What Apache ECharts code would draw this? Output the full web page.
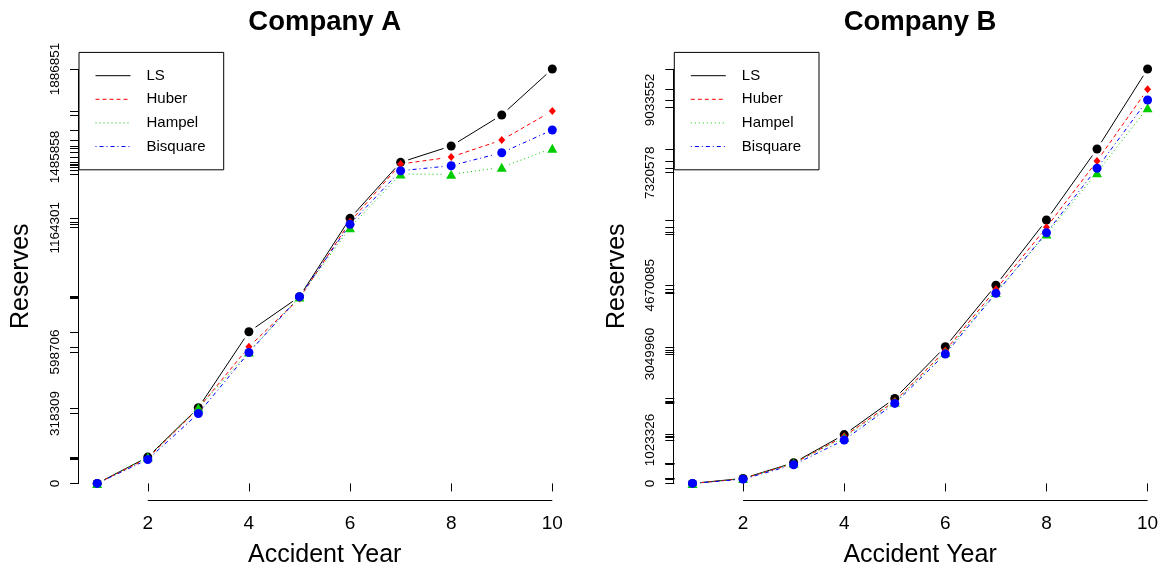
<!DOCTYPE html>
<html>
<head>
<meta charset="utf-8">
<script src="https://cdn.jsdelivr.net/npm/echarts@6/dist/echarts.min.js"></script>
<style>
  html, body { margin: 0; padding: 0; background: #ffffff; }
  #chart { width: 1168px; height: 572px; }
</style>
</head>
<body>
<div id="chart"></div>
<script>
// Accident years and the x ticks that carry labels
const years = [1, 2, 3, 4, 5, 6, 7, 8, 9, 10];
const xTickYears = [2, 4, 6, 8, 10];

// Estimation methods, in legend / drawing order
const methods = ['LS', 'Huber', 'Hampel', 'Bisquare'];

// Company A reserves by accident year
const lsA       = [0, 120000, 344300, 690400, 850000, 1206900, 1461930, 1536170, 1677310, 1886851];
const huberA    = [0, 115000, 341600, 622000, 842000, 1191000, 1454190, 1485858, 1563490, 1695570];
const hampelA   = [0, 120000, 344000, 598706, 849000, 1164301, 1408640, 1407280, 1439160, 1525690];
const bisquareA = [0, 109000, 318309, 596000, 850000, 1179600, 1423670, 1446440, 1505650, 1609090];

// Company B reserves by accident year
const lsB       = [0, 118000, 486000, 1150000, 2003000, 3219000, 4670085, 6205000, 7879000, 9764000];
const huberB    = [0, 112000, 470000, 1110000, 1940000, 3130000, 4572000, 6033000, 7596000, 9286000];
const hampelB   = [0, 116000, 480000, 1084000, 1920000, 3090000, 4500000, 5875000, 7320578, 8852000];
const bisquareB = [0, 100000, 440000, 1023326, 1885000, 3049960, 4478000, 5906000, 7424000, 9033552];

// Reserve values printed on each y axis
const yLabelsA = [0, 318309, 598706, 1164301, 1485858, 1886851];
const yLabelsB = [0, 1023326, 3049960, 4670085, 7320578, 9033552];

const panels = [
  { title: 'Company A', series: [lsA, huberA, hampelA, bisquareA], yLabels: yLabelsA, left: 79 },
  { title: 'Company B', series: [lsB, huberB, hampelB, bisquareB], yLabels: yLabelsB, left: 674.3 }
];

const FONT = '"Liberation Sans", Arial, Helvetica, sans-serif';
const PLOT_TOP = 52.4, PLOT_W = 491.5, PLOT_H = 447.6;
const GAP = 8; // space left around each point by the connecting segments

const styles = {
  LS:       { color: '#000000', dash: null,         symbol: 'circle',   size: 9 },
  Huber:    { color: '#FF0000', dash: [4, 3],       symbol: 'diamond',  size: [7, 8] },
  Hampel:   { color: '#00CD00', dash: [1, 3],       symbol: 'triangle', size: [10, 9] },
  Bisquare: { color: '#0000FF', dash: [1, 3, 4, 3], symbol: 'circle',   size: 9 }
};

// range with 4% padding on each side
function padRange(lo, hi) { const r = hi - lo; return [lo - 0.04 * r, hi + 0.04 * r]; }
const xRange = padRange(Math.min(...years), Math.max(...years));

const grids = [], xAxes = [], yAxes = [], titles = [], legends = [], series = [];

panels.forEach((p, gi) => {
  const allVals = [].concat(...p.series);
  const yRange = padRange(Math.min(...allVals), Math.max(...allVals));
  const cx = p.left + PLOT_W / 2;

  grids.push({
    left: p.left, top: PLOT_TOP, width: PLOT_W, height: PLOT_H,
    containLabel: false, outerBoundsMode: 'none'
  });

  titles.push({
    text: p.title, left: cx, top: 9, textAlign: 'center', padding: 0,
    textStyle: { fontFamily: FONT, fontSize: 27.5, fontWeight: 'bold', color: '#000', lineHeight: 27 }
  });

  xAxes.push({
    gridIndex: gi, type: 'value', min: xRange[0], max: xRange[1],
    name: 'Accident Year', nameLocation: 'middle', nameGap: 43,
    nameTextStyle: { fontFamily: FONT, fontSize: 25, color: '#000', lineHeight: 25 },
    axisLine: { show: false },
    axisTick: { show: true, customValues: xTickYears, length: 8, lineStyle: { color: '#000', width: 1 } },
    axisLabel: { customValues: xTickYears, margin: 14, fontFamily: FONT, fontSize: 19, color: '#000', lineHeight: 19 },
    splitLine: { show: false }
  });

  yAxes.push({
    gridIndex: gi, type: 'value', min: yRange[0], max: yRange[1],
    name: 'Reserves', nameLocation: 'middle', nameGap: 45, nameRotate: 90,
    nameTextStyle: { fontFamily: FONT, fontSize: 25, color: '#000', lineHeight: 25 },
    axisLine: { show: false },
    axisTick: { show: true, customValues: Array.from(new Set(allVals)), length: 9, lineStyle: { color: '#000', width: 1 } },
    axisLabel: {
      customValues: p.yLabels, rotate: 90, margin: 17, fontFamily: FONT, fontSize: 13.5, color: '#000', lineHeight: 14,
      formatter: v => String(Math.round(v))
    },
    splitLine: { show: false }
  });

  legends.push({
    orient: 'vertical', left: p.left, top: PLOT_TOP,
    itemWidth: 35, itemHeight: 15, itemGap: 8.6,
    padding: [15.8, 18, 15.8, 16],
    borderColor: '#000', borderWidth: 1, borderRadius: 0, backgroundColor: '#fff',
    selectedMode: false,
    textStyle: { fontFamily: FONT, fontSize: 15, color: '#000', padding: [0, 0, 0, 11] },
    data: methods.map(m => ({
      name: m,
      itemStyle: { opacity: 0 },
      lineStyle: { color: styles[m].color, width: 1, type: styles[m].dash || 'solid', opacity: 1 }
    }))
  });

  // Axis lines running from the first to the last tick
  const yTickLo = Math.min(...allVals), yTickHi = Math.max(...allVals);
  const xTickLo = Math.min(...xTickYears), xTickHi = Math.max(...xTickYears);
  series.push({
    type: 'custom', xAxisIndex: gi, yAxisIndex: gi, silent: true, clip: false, z: 1,
    data: [[xRange[0], yRange[0]]],
    renderItem: (params, api) => {
      const a = api.coord([xRange[0], yTickLo]), b = api.coord([xRange[0], yTickHi]);
      const c = api.coord([xTickLo, yRange[0]]), d = api.coord([xTickHi, yRange[0]]);
      const sx = Math.round(a[0]) - 0.5, sy = Math.round(c[1]) + 0.5;
      return {
        type: 'group',
        children: [
          { type: 'line', shape: { x1: sx, y1: a[1], x2: sx, y2: b[1] }, style: { stroke: '#000', lineWidth: 1 } },
          { type: 'line', shape: { x1: c[0], y1: sy, x2: d[0], y2: sy }, style: { stroke: '#000', lineWidth: 1 } }
        ]
      };
    }
  });

  methods.forEach((m, mi) => {
    const vals = p.series[mi];
    const st = styles[m];
    const rows = [];
    for (let i = 0; i < years.length - 1; i++) rows.push([years[i], vals[i], years[i + 1], vals[i + 1]]);

    // connecting segments, stopped short of each point
    series.push({
      type: 'custom', xAxisIndex: gi, yAxisIndex: gi, silent: true, clip: false,
      encode: { x: [0, 2], y: [1, 3] },
      data: rows,
      renderItem: (params, api) => {
        const a = api.coord([api.value(0), api.value(1)]);
        const b = api.coord([api.value(2), api.value(3)]);
        const dx = b[0] - a[0], dy = b[1] - a[1], len = Math.hypot(dx, dy);
        if (len <= 2 * GAP) return null;
        const ux = dx / len, uy = dy / len;
        return {
          type: 'line',
          shape: { x1: a[0] + ux * GAP, y1: a[1] + uy * GAP, x2: b[0] - ux * GAP, y2: b[1] - uy * GAP },
          style: { stroke: st.color, lineWidth: 1, lineDash: st.dash || null }
        };
      }
    });

    // point markers
    series.push({
      name: m, type: 'line', xAxisIndex: gi, yAxisIndex: gi, silent: true,
      data: years.map((y, i) => [y, vals[i]]),
      symbol: st.symbol, symbolSize: st.size, showSymbol: true, showAllSymbol: true,
      lineStyle: { width: 0, opacity: 0 },
      itemStyle: { color: st.color, borderWidth: 0 },
      emphasis: { disabled: true }
    });
  });
});

const chart = echarts.init(document.getElementById('chart'), null, { renderer: 'canvas' });
chart.setOption({
  animation: false,
  backgroundColor: '#ffffff',
  title: titles,
  legend: legends,
  grid: grids,
  xAxis: xAxes,
  yAxis: yAxes,
  tooltip: { show: false },
  series: series
});
</script>
</body>
</html>
